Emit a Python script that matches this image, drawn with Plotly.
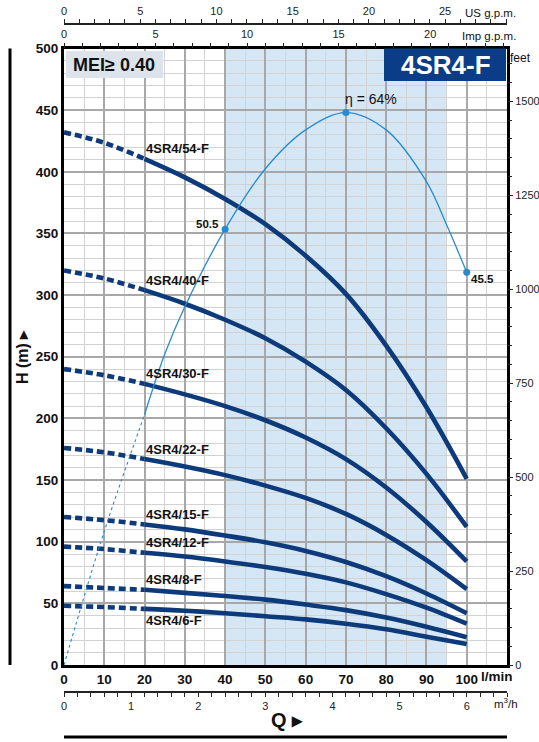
import plotly.graph_objects as go

# ---------------- data ----------------
Q_LMIN = [0, 10, 20, 30, 40, 50, 60, 70, 80, 90, 100]   # l/min
MODELS = ["4SR4/54-F", "4SR4/40-F", "4SR4/30-F", "4SR4/22-F",
          "4SR4/15-F", "4SR4/12-F", "4SR4/8-F", "4SR4/6-F"]
H_54 = [432, 423.5, 410.5, 395.5, 378, 357.5, 332, 301, 259, 209, 151]
H_40 = [320, 313.5, 304, 293, 280, 265, 246, 223, 192, 155, 112]
H_30 = [240, 235, 228, 219.5, 210, 198.5, 184.5, 167, 144, 116, 84]
H_22 = [176, 172.5, 167, 161, 154, 145.5, 135.5, 122.5, 105.5, 85, 61.5]
H_15 = [120, 117.5, 114, 110, 105, 99.5, 92.5, 83.5, 72, 58, 42]
H_12 = [96, 94, 91, 88, 84, 79.5, 74, 67, 57.5, 46.5, 33.5]
H_8 = [64, 62.5, 61, 58.5, 56, 53, 49, 44.5, 38.5, 31, 22.5]
H_6 = [48, 47, 45.5, 44, 42, 39.5, 37, 33.5, 29, 23, 17]
H_CURVES = [H_54, H_40, H_30, H_22, H_15, H_12, H_8, H_6]
Q_DASH_END = 20          # curves dashed below this flow

EFF_Q_DASH = [0, 10, 20]
EFF_DASH = [0, 15.5, 29]
EFF_Q = [20, 25, 30, 40, 50, 60, 70, 80, 90, 95, 100]
EFF = [29, 36, 41.5, 50.5, 57.5, 62, 64, 62, 56, 51, 45.5]
EFF_MARK_Q = [40, 70, 100]
EFF_MARK_TEXT = ["50.5", "η = 64%", "45.5"]

H_TICKS = [0, 50, 100, 150, 200, 250, 300, 350, 400, 450, 500]
Q_TICKS = [0, 10, 20, 30, 40, 50, 60, 70, 80, 90, 100]
FT_TICKS = [0, 250, 500, 750, 1000, 1250, 1500]
US_TICKS = [0, 5, 10, 15, 20, 25]
IMP_TICKS = [0, 5, 10, 15, 20]
M3H_TICKS = [0, 1, 2, 3, 4, 5, 6]

BAND = [40, 95]          # shaded flow band, l/min
X_MAX = 110
H_MAX = 500
ETA_SCALE = 7.0          # metres of chart per % efficiency
US_GPM = 3.78541
IMP_GPM = 4.54609
M3H = 1000 / 60
FT = 0.3048

# ---------------- styles ----------------
W, HGT = 539, 742
ML, MR, MT, MB = 64, 32, 24, 50
PW, PH = W - ML - MR, HGT - MT - MB
Y_TOP_PX, Y_BOT_PX = 48.5, 665


def px(xp):
    return (xp - ML) / PW


def py(yp):
    return (HGT - MB - yp) / PH


FONT = "Liberation Sans, Arial, sans-serif"
NAVY = "#0d3a7a"
EFFC = "#2a8ad0"
GRID_MIN = "#d2d2d2"
GRID_MAJ = "#a8a8a8"

fig = go.Figure()

# pump curves
k = Q_LMIN.index(Q_DASH_END)
for name, H in zip(MODELS, H_CURVES):
    fig.add_trace(go.Scatter(x=Q_LMIN[:k + 1], y=H[:k + 1], mode="lines",
                             line=dict(color=NAVY, width=4.6, dash="7px,4px", shape="spline"),
                             hoverinfo="skip", showlegend=False))
    fig.add_trace(go.Scatter(x=Q_LMIN[k:], y=H[k:], mode="lines", name=name,
                             line=dict(color=NAVY, width=4.6, shape="spline"),
                             showlegend=False))
    fig.add_annotation(x=Q_LMIN[k], y=H[k], text="<b>%s</b>" % name, xref="x", yref="y",
                       xanchor="left", yanchor="middle", xshift=-1,
                       yshift=(-12 if name == "4SR4/6-F" else 10),
                       showarrow=False, font=dict(family=FONT, size=13, color="#111"))

# efficiency
fig.add_trace(go.Scatter(x=EFF_Q_DASH, y=EFF_DASH, mode="lines", yaxis="y3",
                         line=dict(color=EFFC, width=1.1, dash="3px,3px", shape="spline"),
                         hoverinfo="skip", showlegend=False))
fig.add_trace(go.Scatter(x=EFF_Q, y=EFF, mode="lines", yaxis="y3",
                         line=dict(color=EFFC, width=1.3, shape="spline"),
                         showlegend=False))
mark_y = [EFF[EFF_Q.index(q)] for q in EFF_MARK_Q]
fig.add_trace(go.Scatter(x=EFF_MARK_Q, y=mark_y, mode="markers", yaxis="y3",
                         marker=dict(color=EFFC, size=7), showlegend=False))
label_style = [dict(xanchor="right", xshift=-4, yshift=5, size=11.5, bold=True),
               dict(xanchor="left", xshift=-3, yshift=14, size=14, bold=False),
               dict(xanchor="left", xshift=2, yshift=-7, size=11.5, bold=True)]
for q, e, t, st in zip(EFF_MARK_Q, mark_y, EFF_MARK_TEXT, label_style):
    fig.add_annotation(x=q, y=e, xref="x", yref="y3", text=("<b>%s</b>" % t if st["bold"] else t),
                       showarrow=False, xanchor=st["xanchor"], yanchor="middle",
                       xshift=st["xshift"], yshift=st["yshift"],
                       font=dict(family=FONT, size=st["size"], color="#111"))

# dummy traces to attach secondary axes
fig.add_trace(go.Scatter(x=[0], y=[0], xaxis="x2", yaxis="y2", mode="markers",
                         marker=dict(opacity=0), hoverinfo="skip", showlegend=False))
fig.add_trace(go.Scatter(x=[0], y=[0], xaxis="x3", yaxis="y", mode="markers",
                         marker=dict(opacity=0), hoverinfo="skip", showlegend=False))
fig.add_trace(go.Scatter(x=[0], y=[0], xaxis="x4", yaxis="y", mode="markers",
                         marker=dict(opacity=0), hoverinfo="skip", showlegend=False))

ydom = [py(Y_BOT_PX), py(Y_TOP_PX)]
tick_small = dict(family=FONT, size=11, color="#222")
tick_bold = dict(family=FONT, size=13.5, color="#111", weight="bold")

fig.update_layout(
    width=W, height=HGT, margin=dict(l=ML, r=MR, t=MT, b=MB, autoexpand=False),
    paper_bgcolor="white", plot_bgcolor="white",
    font=dict(family=FONT),
    xaxis=dict(range=[0, X_MAX], domain=[0, 1], anchor="y", automargin=False,
               tickmode="array", tickvals=Q_TICKS, ticktext=[str(v) for v in Q_TICKS],
               tickfont=tick_bold,
               showgrid=True, gridcolor=GRID_MAJ, gridwidth=1.5,
               minor=dict(tickmode="linear", tick0=0, dtick=5, showgrid=True,
                          gridcolor=GRID_MIN, gridwidth=1, ticks=""),
               showline=True, linewidth=3, linecolor="black", mirror=True,
               ticks="", zeroline=False),
    yaxis=dict(range=[0, H_MAX], domain=ydom, anchor="x", automargin=False,
               tickmode="array", tickvals=H_TICKS, ticktext=[str(v) for v in H_TICKS],
               tickfont=tick_bold,
               showgrid=True, gridcolor=GRID_MAJ, gridwidth=1.5,
               minor=dict(tickmode="linear", tick0=0, dtick=10, showgrid=True,
                          gridcolor=GRID_MIN, gridwidth=1, ticks=""),
               showline=True, linewidth=3, linecolor="black", mirror=True,
               ticks="", zeroline=False),
    yaxis2=dict(range=[0, H_MAX / FT], overlaying="y", side="right", anchor="x",
                automargin=False,
                tickmode="array", tickvals=FT_TICKS, ticktext=[str(v) for v in FT_TICKS],
                ticks="outside", ticklen=5, tickcolor="#222", tickwidth=1,
                minor=dict(tickmode="linear", tick0=0, dtick=50, ticks="outside",
                           ticklen=4, tickcolor="#222", showgrid=False),
                tickfont=tick_small, showgrid=False, zeroline=False, showline=False),
    yaxis3=dict(range=[0, H_MAX / ETA_SCALE], overlaying="y", anchor="x",
                visible=False, showgrid=False, automargin=False),
    xaxis2=dict(range=[0, X_MAX / US_GPM], overlaying="x", anchor="free", position=1,
                side="top", tickmode="array", tickvals=US_TICKS, automargin=False,
                ticktext=[str(v) for v in US_TICKS],
                ticks="outside", ticklen=4, tickcolor="#222",
                minor=dict(tickmode="linear", tick0=0, dtick=1, ticks="outside",
                           ticklen=4, tickcolor="#222", showgrid=False),
                showline=True, linewidth=1.5, linecolor="#222",
                tickfont=tick_small, showgrid=False, zeroline=False),
    xaxis3=dict(range=[0, X_MAX / IMP_GPM], overlaying="x", anchor="y",
                side="top", tickmode="array", tickvals=IMP_TICKS, automargin=False,
                ticktext=[str(v) for v in IMP_TICKS],
                ticks="outside", ticklen=5, tickcolor="#222",
                minor=dict(tickmode="linear", tick0=0, dtick=1, ticks="outside",
                           ticklen=5, tickcolor="#222", showgrid=False),
                showline=False, tickfont=tick_small, showgrid=False, zeroline=False),
    xaxis4=dict(range=[0, X_MAX / M3H], overlaying="x", anchor="free", position=0,
                side="bottom", tickmode="array", tickvals=M3H_TICKS, automargin=False,
                ticktext=[str(v) for v in M3H_TICKS],
                ticks="outside", ticklen=4, tickcolor="#222",
                minor=dict(tickmode="linear", tick0=0, dtick=0.2, ticks="outside",
                           ticklen=4, tickcolor="#222", showgrid=False),
                showline=True, linewidth=1.5, linecolor="#222",
                tickfont=tick_small, showgrid=False, zeroline=False),
)

# shaded band
fig.add_shape(type="rect", xref="x", yref="y", x0=BAND[0], x1=BAND[1], y0=0, y1=H_MAX,
              fillcolor="#d5e7f4", line=dict(width=0), layer="below")

# boxes
fig.add_shape(type="rect", xref="paper", yref="paper", x0=px(66), x1=px(163),
              y0=py(78), y1=py(51), fillcolor="#dde3ea", line=dict(width=0), layer="above")
fig.add_annotation(xref="paper", yref="paper", x=px(114), y=py(65), text="<b>MEI≥ 0.40</b>",
                   xanchor="center", yanchor="middle",
                   showarrow=False, font=dict(family=FONT, size=18, color="#111"))
fig.add_shape(type="rect", xref="paper", yref="paper", x0=px(384), x1=px(506),
              y0=py(81), y1=py(Y_TOP_PX), fillcolor="#0b3c87", line=dict(width=0), layer="above")
fig.add_annotation(xref="paper", yref="paper", x=px(446), y=py(65), text="<b>4SR4-F</b>",
                   xanchor="center", yanchor="middle",
                   showarrow=False, font=dict(family=FONT, size=26, color="white"))

# unit labels
units = [("US g.p.m.", 490, 13, 11.5, False), ("Imp g.p.m.", 489, 36, 11.5, False),
         ("feet", 520, 58, 12, False), ("l/min", 497, 676, 13.5, True),
         ("m<sup>3</sup>/h", 506, 703, 11.5, False)]
for t, xp, yp, s, b in units:
    fig.add_annotation(xref="paper", yref="paper", x=px(xp), y=py(yp),
                       xanchor="center", yanchor="middle",
                       text=("<b>%s</b>" % t if b else t), showarrow=False,
                       font=dict(family=FONT, size=s, color="#111"))

fig.add_annotation(xref="paper", yref="paper", x=px(287), y=py(720), text="<b>Q ▸</b>",
                   xanchor="center", yanchor="middle",
                   showarrow=False, font=dict(family=FONT, size=20, color="#111"))
fig.add_annotation(xref="paper", yref="paper", x=px(22), y=py(357), text="<b>H (m) ▸</b>",
                   xanchor="center", yanchor="middle",
                   textangle=-90, showarrow=False, font=dict(family=FONT, size=16, color="#111"))

# decorative rules
fig.add_shape(type="line", xref="paper", yref="paper", x0=px(10), x1=px(10),
              y0=py(Y_BOT_PX), y1=py(Y_TOP_PX), line=dict(color="black", width=3))
fig.add_shape(type="line", xref="paper", yref="paper", x0=px(64), x1=px(507),
              y0=py(737), y1=py(737), line=dict(color="black", width=3))

fig.write_html("out.html", config={"displayModeBar": False},
               post_script="document.body.style.margin='0px';")
